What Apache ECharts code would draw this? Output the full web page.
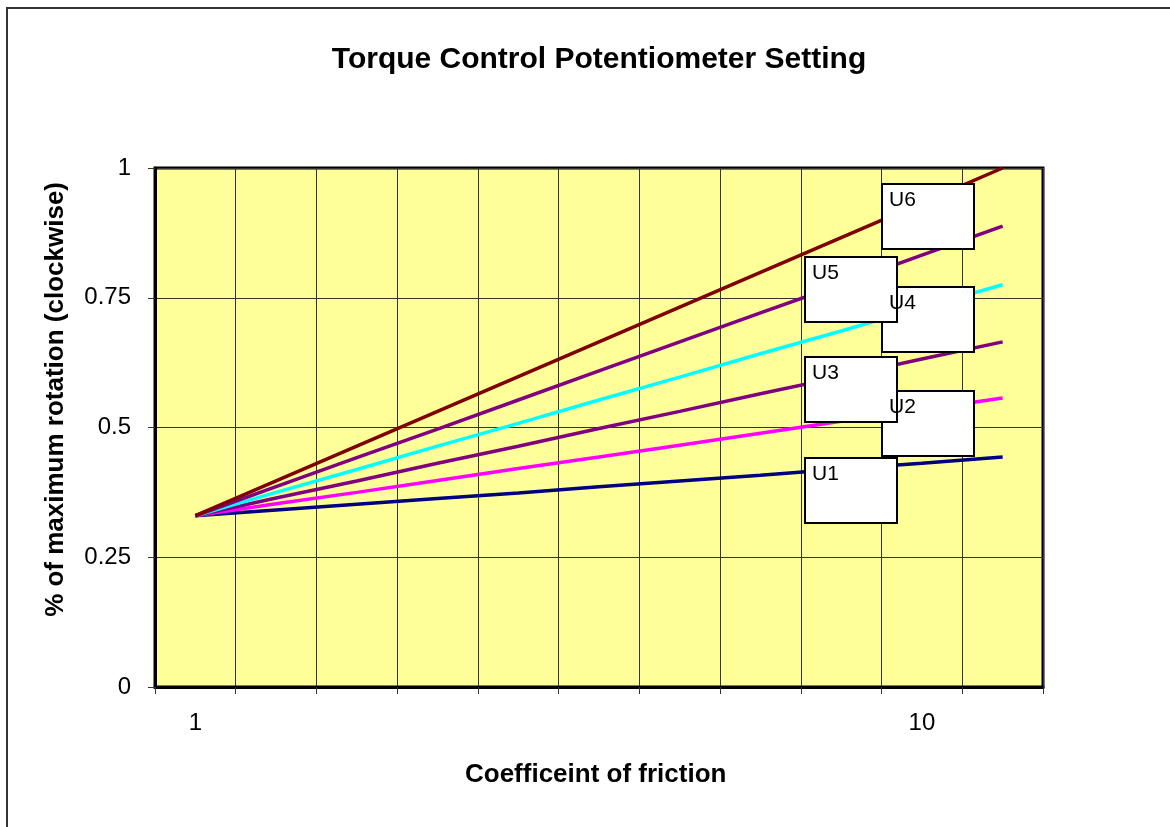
<!DOCTYPE html>
<html>
<head>
<meta charset="utf-8">
<script src="https://cdn.jsdelivr.net/npm/echarts@6/dist/echarts.min.js"></script>
<style>
  html, body { margin: 0; padding: 0; background: #fff; }
  #frame {
    position: absolute; left: 0; top: 0; width: 1170px; height: 827px;
  }
  #border {
    position: absolute; left: 6px; top: 7px; width: 1170px; height: 830px;
    border-left: 2px solid #333; border-top: 2px solid #333;
    box-sizing: border-box;
  }
  #chart { position: absolute; left: 0; top: 0; width: 1170px; height: 827px; }
</style>
</head>
<body>
<div id="frame">
  <div id="border"></div>
  <div id="chart"></div>
</div>
<script>
// friction coefficient categories
const categories = ['1', '2', '3', '4', '5', '6', '7', '8', '9', '10', '11']

// rotation fraction
const u1 = [0.33, 0.341, 0.352, 0.363, 0.374, 0.386, 0.397, 0.408, 0.420, 0.431, 0.443]
const u2 = [0.33, 0.353, 0.375, 0.398, 0.421, 0.443, 0.466, 0.489, 0.512, 0.534, 0.557]
const u3 = [0.33, 0.364, 0.397, 0.431, 0.464, 0.498, 0.531, 0.565, 0.598, 0.632, 0.665]
const u4 = [0.33, 0.375, 0.419, 0.464, 0.508, 0.553, 0.597, 0.642, 0.686, 0.731, 0.775]
const u5 = [0.33, 0.386, 0.442, 0.497, 0.553, 0.609, 0.665, 0.721, 0.776, 0.832, 0.888]
const u6 = [0.33, 0.397, 0.464, 0.531, 0.598, 0.665, 0.732, 0.799, 0.866, 0.933, 1.0]

const seriesNames = ['U1', 'U2', 'U3', 'U4', 'U5', 'U6']
const seriesData = [u1, u2, u3, u4, u5, u6]
const seriesColors = ['#000080', '#FF00FF', '#800080', '#00FFFF', '#800080', '#800000']

// text box annotations (pixel layout, same order as names)
const boxPos = [[804, 457], [881, 390], [804, 356], [881, 286], [804, 256], [881, 183]]

const FONT = 'Liberation Sans, Arial, sans-serif'

const chart = echarts.init(document.getElementById('chart'))

const boxes = seriesNames.map((name, i) => ({
  type: 'group',
  left: boxPos[i][0],
  top: boxPos[i][1],
  z: 100,
  children: [
    {
      type: 'rect',
      shape: { x: 0, y: 0, width: 92, height: 65 },
      style: { fill: '#fff', stroke: '#000', lineWidth: 2 },
      z: 100
    },
    {
      type: 'text',
      x: 7, y: 6,
      style: { text: name, font: '21px ' + FONT, fill: '#000', verticalAlign: 'top' },
      z: 101
    }
  ]
}))

const option = {
  animation: false,
  title: {
    text: 'Torque Control Potentiometer Setting',
    left: 594,
    top: 40,
    textAlign: 'center',
    textStyle: { fontFamily: FONT, fontSize: 30, fontWeight: 'bold', color: '#000' }
  },
  grid: {
    left: 155, top: 168, width: 888, height: 519,
    show: true,
    backgroundColor: '#FFFF99',
    borderColor: '#000',
    borderWidth: 3
  },
  xAxis: {
    type: 'category',
    data: categories,
    boundaryGap: true,
    axisLine: { lineStyle: { color: '#000', width: 3 } },
    axisTick: { show: true, interval: 0, length: 7, lineStyle: { color: '#333', width: 1 } },
    axisLabel: { interval: 8, margin: 24, fontFamily: FONT, fontSize: 24, color: '#000' },
    splitLine: { show: true, interval: 0, lineStyle: { color: '#333', width: 1 } }
  },
  yAxis: {
    type: 'value',
    min: 0, max: 1, interval: 0.25,
    axisLine: { show: true, lineStyle: { color: '#000', width: 3 } },
    axisTick: { show: true, length: 7, lineStyle: { color: '#333', width: 1 } },
    axisLabel: { margin: 24, fontFamily: FONT, fontSize: 24, color: '#000' },
    splitLine: { show: true, lineStyle: { color: '#333', width: 1 } }
  },
  series: seriesNames.map((name, i) => ({
    name,
    type: 'line',
    data: seriesData[i],
    showSymbol: false,
    symbol: 'none',
    lineStyle: { color: seriesColors[i], width: 3.5 },
    itemStyle: { color: seriesColors[i] },
    z: 3 + i
  })),
  graphic: [
    {
      type: 'text',
      left: 465,
      top: 762,
      style: { text: 'Coefficeint of friction', font: 'bold 26px ' + FONT, fill: '#000' }
    },
    {
      type: 'text',
      left: 43,
      top: 182,
      rotation: Math.PI / 2,
      style: { text: '% of maximum rotation (clockwise)', font: 'bold 26px ' + FONT, fill: '#000' }
    },
    ...boxes
  ]
}

chart.setOption(option)
window.addEventListener('resize', () => chart.resize())
</script>
</body>
</html>
